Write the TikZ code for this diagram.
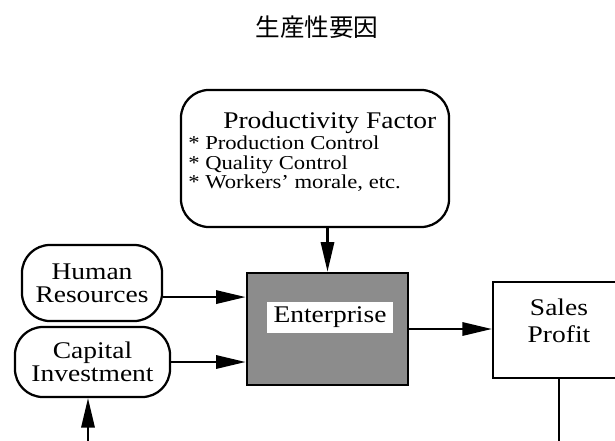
\documentclass[tikz,border=0pt]{standalone}
\usepackage{fontspec}
\setmainfont[FakeStretch=1.15]{Liberation Serif}
\newfontfamily\cjk{Noto Sans CJK JP}
\usetikzlibrary{arrows.meta}

\tikzset{
  flow/.style={line width=1.5pt, -{Triangle[length=21pt,width=9.5pt]}},
  pill/.style={draw, line width=1.6pt, rounded corners=0.7cm, align=center,
    font=\fontsize{17}{16.5}\selectfont},
  plainbox/.style={draw, line width=1.6pt, align=center,
    font=\fontsize{17}{19}\selectfont},
}

\begin{document}
\begin{tikzpicture}[x=0.025cm, y=-0.025cm]
	\clip (0,0) rectangle (615,440);
	\node[font=\cjk\fontsize{17.5}{20}\selectfont] (title) at (317,27) {生産性要因};

	\node[pill, minimum width=6.7cm, minimum height=3.425cm] (prod) at (315,158.5) {};
	\node[anchor=base west, inner sep=0pt, font=\fontsize{17}{17}\selectfont] (prodhead) at (223,128) {Productivity Factor};
	\foreach \i/\txt in {0/Production Control, 1/Quality Control, 2/{Workers' morale, etc.}}
		\node[anchor=base west, inner sep=0pt, font=\fontsize{14}{14}\selectfont] (item\i) at (188,149.5+19.5*\i) {* \txt};

	\node[pill, minimum width=3.5cm, minimum height=1.9cm] (human) at (92,283) {Human\\Resources};
	\node[pill, minimum width=3.875cm, minimum height=1.75cm] (capital) at (92.5,362) {Capital\\Investment};
	\node[draw, line width=2pt, fill=black!45, minimum width=4.025cm, minimum height=2.8cm] (ent) at (327.5,329) {};
	\node[fill=white, minimum width=3.15cm, minimum height=0.625cm, font=\fontsize{17}{17}\selectfont] (entlabel) at (330,317.5) {Enterprise};
	\node[plainbox, minimum width=3.3cm, minimum height=2.4cm, text depth=13pt] (sales) at (559,330) {Sales\\Profit};

	\coordinate (salesdown) at (559,450);
	\coordinate (capup) at (88,450);

	\draw[flow] (ent.north |- prod.south) -- (ent.north);
	\draw[flow] ([yshift=-10pt]human.east) -- ([yshift=-10pt]human.east -| ent.west);
	\draw[flow] (capital.east) -- (capital.east -| ent.west);
	\draw[flow] (ent.east) -- (ent.east -| sales.west);
	\draw[line width=1.5pt] (sales.south) -- (salesdown);
	\draw[flow] (capup) -- (capup |- capital.south);
\end{tikzpicture}
\end{document}
